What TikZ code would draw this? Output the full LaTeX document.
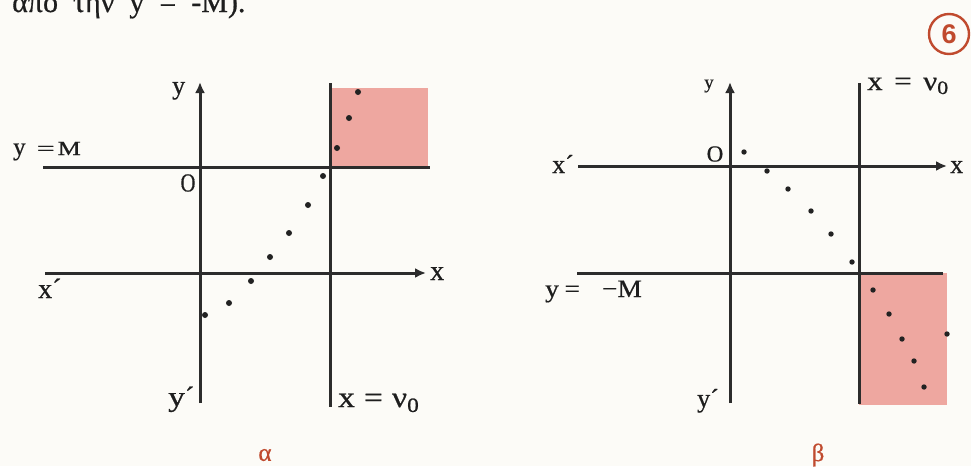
\documentclass[tikz,border=0pt]{standalone}
\usepackage{fontspec}
\setmainfont[FakeBold=0.6]{Liberation Serif}
\newfontfamily\numfont{Liberation Sans}
\usetikzlibrary{arrows.meta}
\definecolor{ink}{HTML}{2C2C2C}
\definecolor{txt}{HTML}{1E1E1E}
\definecolor{dotink}{HTML}{222222}
\definecolor{pinkfill}{HTML}{EEA7A0}
\definecolor{redlab}{HTML}{C04A2E}
\definecolor{paper}{HTML}{FCFBF7}
\newcommand{\myfs}[1]{\fontsize{#1}{#1}\selectfont}
\tikzset{
  axisline/.style={draw=ink, line width=3pt},
  axisarrow/.style={axisline, -{Latex[length=11pt,width=10pt]}},
  dotpt/.style={circle, fill=dotink, inner sep=0pt, minimum size=6pt},
  lab/.style={text=txt, inner sep=0pt, anchor=base west},
  clab/.style={text=txt, inner sep=0pt},
  sublab/.style={text=redlab, inner sep=0pt, font=\myfs{25}},
  region/.style={fill=pinkfill, draw=none},
}
\begin{document}
\begin{tikzpicture}[x=1pt,y=-1pt]
\useasboundingbox (0,0) rectangle (971,466);
\clip (0,0) rectangle (971,466);
\fill[paper] (0,0) rectangle (971,466);

% header (cut at the top edge, as in the reference)
\node[lab, font=\myfs{30}] (head) at (12,12) {απο\ \ την\ \ y\ \ =\ \ -M).};

% badge
\node[circle, draw=redlab, line width=2.4pt, minimum size=40pt, inner sep=0pt,
      text=redlab, font=\numfont\bfseries\fontsize{27}{27}\selectfont] (badge) at (949,34) {6};

% ---------------- panel alpha ----------------
\fill[region] (330,88) rectangle (428,167);
\coordinate (aYt) at (200,82);
\coordinate (aYb) at (200,403);
\coordinate (aXl) at (45,273);
\coordinate (aXr) at (426,273);
\coordinate (aMl) at (43,167);
\coordinate (aMr) at (430,167);
\coordinate (aNt) at (330,83);
\coordinate (aNb) at (330,407);
\draw[axisline] (aMl) -- (aMr);
\draw[axisarrow] (aXl) -- (aXr);
\draw[axisarrow] (aYb) -- (aYt);
\draw[axisline] (aNt) -- (aNb);
\foreach \p [count=\i] in {{358,92},{349,118},{337,148},{323,176},{308,205},{289,233},{270,257},{251,281},{229,303},{205,315}}
  {\node[dotpt] (ad\i) at (\p) {};}

\node[lab, font=\myfs{26}] (ayl) at (172,94) {y};
\node[lab] (aml) at (13,155) {{\myfs{25}y}\hspace{11pt}{\myfs{20}\scalebox{1.6}[1]{=}}\hspace{3pt}{\myfs{20}\scalebox{1.3}[1]{M}}};
\node[clab, font=\myfs{26}] (aO) at (188,183) {\scalebox{0.8}[1]{O}};
\node[lab, font=\myfs{28}] (axp) at (38,298) {x´};
\node[lab, font=\myfs{28}] (axl) at (430,280) {x};
\node[lab, font=\myfs{28}] (ayp) at (168,406) {\scalebox{1.2}[1]{y}´};
\node[lab, font=\myfs{29}] (anu) at (338,407) {\scalebox{1.15}[1]{x\hspace{8pt}=\hspace{8pt}ν\textsubscript{0}}};
\node[sublab] (alab) at (265,455) {α};

% ---------------- panel beta ----------------
\fill[region] (859,273) rectangle (947,405);
\coordinate (bYt) at (730,82);
\coordinate (bYb) at (730,403);
\coordinate (bXl) at (578,166);
\coordinate (bXr) at (947,166);
\coordinate (bMl) at (577,273);
\coordinate (bMr) at (943,273);
\coordinate (bNt) at (859,83);
\coordinate (bNb) at (859,404);
\draw[axisline] (bMl) -- (bMr);
\draw[axisarrow] (bXl) -- (bXr);
\draw[axisarrow] (bYb) -- (bYt);
\draw[axisline] (bNt) -- (bNb);
\foreach \p [count=\i] in {{744,152},{767,171},{788,189},{811,211},{831,234},{852,262},{873,290},{889,314},{902,339},{947,334},{914,361},{924,387}}
  {\node[dotpt, minimum size=5.4pt] (bd\i) at (\p) {};}

\node[clab, font=\myfs{19}] (byl) at (709,86) {y};
\node[clab, font=\myfs{23}] (bO) at (715,154) {O};
\node[lab, font=\myfs{26}] (bxp) at (552,173) {x´};
\node[lab, font=\myfs{26}] (bxl) at (950,173) {x};
\node[lab, font=\myfs{27}] (bnu) at (867,90) {\scalebox{1.15}[1]{x\hspace{10pt}=\hspace{10pt}ν\textsubscript{0}}};
\node[lab, font=\myfs{25}] (bml) at (545,297) {\scalebox{1.1}[1]{y\hspace{5pt}=\hspace{20pt}−M}};
\node[lab, font=\myfs{26}] (byp) at (697,407) {y´};
\node[sublab] (blab) at (818,455) {β};
\end{tikzpicture}
\end{document}
